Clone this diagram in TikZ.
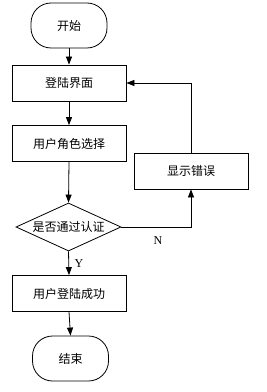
\documentclass[tikz,border=0pt]{standalone}
\usepackage{fontspec}
\setmainfont{Liberation Serif}
\newfontfamily\cjk{Noto Sans CJK SC}
\usetikzlibrary{shapes.geometric,arrows.meta}
\begin{document}
\begin{tikzpicture}[x=0.75pt,y=-0.75pt,
  box/.style={draw, line width=0.6pt, minimum width=85.5pt, minimum height=27pt, inner sep=0pt, font=\cjk\fontsize{9}{10}\selectfont},
  term/.style={draw, line width=0.6pt, rounded corners=15pt, minimum width=57pt, minimum height=33.75pt, inner sep=0pt, font=\cjk\fontsize{9}{10}\selectfont},
  dia/.style={draw, line width=0.6pt, diamond, aspect=2.19, minimum width=78.75pt, minimum height=36pt, inner sep=0pt, font=\cjk\fontsize{9}{10}\selectfont},
  arr/.style={-{Triangle[length=6pt,width=4.5pt]}, line width=0.6pt},
  lab/.style={font=\fontsize{9}{10}\selectfont, inner sep=0pt}]
\useasboundingbox (0,0) rectangle (267,392);
\node[term] (start) at (69,25.5) {开始};
\node[box] (login) at (69,83) {登陆界面};
\node[box] (role) at (69,143.5) {用户角色选择};
\node[dia] (check) at (68.5,227) {是否通过认证};
\node[box] (err) at (191,171) {显示错误};
\node[box] (ok) at (69,293.5) {用户登陆成功};
\node[term] (end) at (70.5,358.5) {结束};
\draw[arr] (start) -- (login);
\draw[arr] (login) -- (role);
\draw[arr] (role.south) -- (check.north);
\draw[arr] (check.east) -| (err.south);
\draw[arr] (err.north) |- (login.east);
\draw[arr] (check.south) -- (ok.north);
\draw[arr] (ok.south) -- (end.north);
\node[lab] (n) at (158,241) {N};
\node[lab] (y) at (79,264) {Y};
\end{tikzpicture}
\end{document}
